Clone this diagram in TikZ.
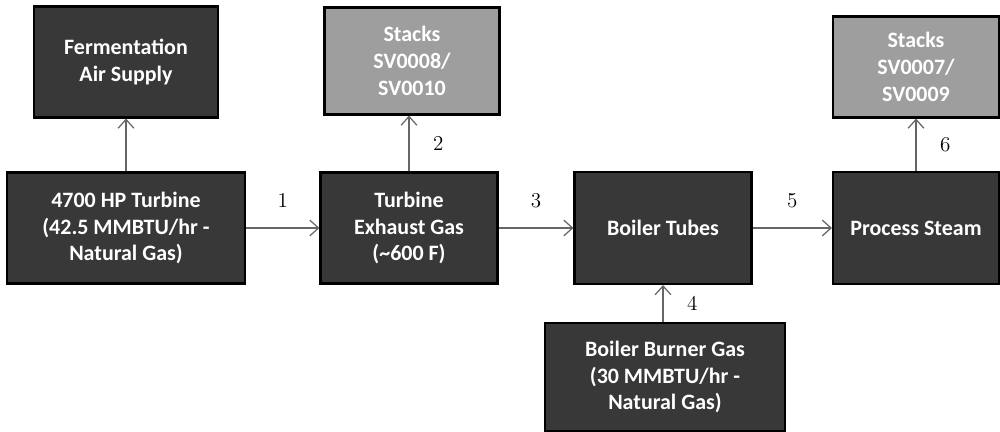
\documentclass[tikz,border=0pt]{standalone}
\usepackage{fontspec}
\setsansfont{Carlito}
\usetikzlibrary{arrows.meta}

\begin{document}
\begin{tikzpicture}[x=0.02cm,y=-0.02cm,
  unit/.style={draw=black,line width=1.2pt,fill=black!78,text=white,align=center,
    font=\sffamily\bfseries\fontsize{12.5}{15.2}\selectfont,inner sep=0pt},
  stack/.style={unit,fill=black!38},
  flow/.style={-{Straight Barb[length=5pt,width=9pt]},black!60,line width=0.7pt},
  num/.style={text=black,font=\fontsize{12}{14}\selectfont}]
\useasboundingbox (0,0) rectangle (1000,432);
% top row
\node[unit,minimum width=3.68cm,minimum height=2.22cm] (ferm) at (126,62) {Fermentation\\Air Supply};
\node[stack,minimum width=3.5cm,minimum height=2.14cm] (stacka) at (412,61) {Stacks\\SV0008/\\SV0010};
\node[stack,minimum width=3.32cm,minimum height=2.02cm] (stackb) at (916,67) {Stacks\\SV0007/\\SV0009};
% main row
\node[unit,minimum width=4.76cm,minimum height=2.22cm] (turb) at (126,228) {4700 HP Turbine\\(42.5 MMBTU/hr -\\Natural Gas)};
\node[unit,minimum width=3.54cm,minimum height=2.22cm] (exh) at (409,228) {Turbine\\Exhaust Gas\\(\textasciitilde600 F)};
\node[unit,minimum width=3.54cm,minimum height=2.24cm] (boil) at (663,228) {Boiler Tubes};
\node[unit,minimum width=3.32cm,minimum height=2.24cm] (steam) at (916,228) {Process Steam};
% burner
\node[unit,minimum width=4.8cm,minimum height=2.16cm] (burner) at (665,377) {Boiler Burner Gas\\(30 MMBTU/hr -\\Natural Gas)};

\draw[flow] (turb.north) -- (ferm.south);
\draw[flow] (turb.east) -- node[num,above=8pt] {1} (exh.west);
\draw[flow] (exh.north) -- node[num,right=10pt] {2} (exh.north |- stacka.south);
\draw[flow] (exh.east) -- node[num,above=8pt] {3} (boil.west);
\draw[flow] (boil.south |- burner.north) -- node[num,right=10pt] {4} (boil.south);
\draw[flow] (boil.east) -- node[num,above=8pt] {5} (steam.west);
\draw[flow] (steam.north) -- node[num,right=10pt] {6} (stackb.south);
\end{tikzpicture}
\end{document}
